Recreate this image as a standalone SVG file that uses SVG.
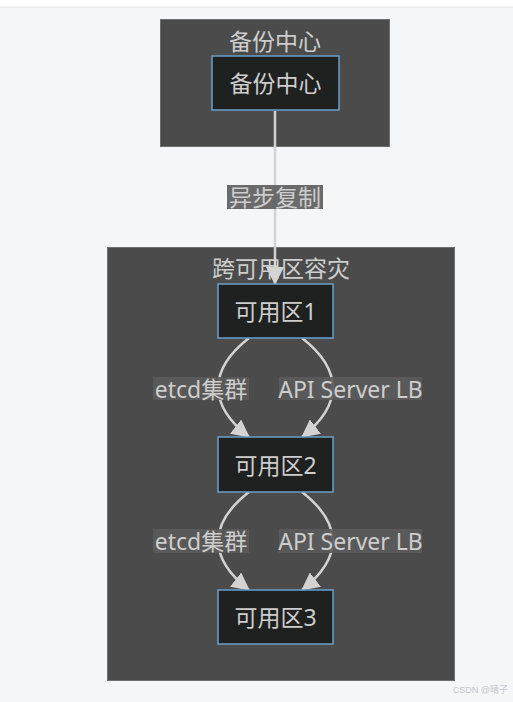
<svg xmlns="http://www.w3.org/2000/svg" width="513" height="702" viewBox="0 0 513 702">
<defs>
<marker id="arr" viewBox="0 0 18 18" refX="17" refY="9" markerWidth="18" markerHeight="18" markerUnits="userSpaceOnUse" orient="auto">
<path d="M0,0 L18,9 L0,18 Z" fill="#d3d3d3"/>
</marker>
<style>
.cl{fill:#4a4b4a;stroke:#6e6e6e;stroke-width:1}
.nd{fill:#1f2020;stroke:#6a9fd0;stroke-width:1.5}
.t{font-family:"Noto Sans","Noto Sans CJK SC",sans-serif;font-size:23px;fill:#cdcdcd;text-anchor:middle;dominant-baseline:central}
.e{fill:none;stroke:#d3d3d3;stroke-width:2.5}
.lb{fill:#5b5b5b;opacity:0.9}
</style>
</defs>
<rect x="0" y="0" width="513" height="702" fill="#ffffff"/>
<rect x="0" y="7" width="513" height="695" fill="#f5f6f8"/>
<line x1="0" y1="7" x2="513" y2="7" stroke="#e6e7eb" stroke-width="1"/>
<g id="cluster-backup">
<rect class="cl" x="160.5" y="19.5" width="229" height="127"/>
<text class="t" x="275" y="41">备份中心</text>
</g>
<g id="cluster-az">
<rect class="cl" x="107.5" y="247.5" width="347" height="433"/>
<text class="t" x="281" y="268">跨可用区容灾</text>
</g>
<g id="connectors">
<line class="e" x1="275" y1="111" x2="275" y2="284" marker-end="url(#arr)"/>
<path class="e" d="M249,338 C208,370 208,405 249,437" marker-end="url(#arr)"/>
<path class="e" d="M302,338 C343,370 343,405 302,437" marker-end="url(#arr)"/>
<path class="e" d="M249,492 C208,524 208,558 249,590" marker-end="url(#arr)"/>
<path class="e" d="M302,492 C343,524 343,558 302,590" marker-end="url(#arr)"/>
<rect class="lb" x="227" y="185" width="96" height="24"/>
<text class="t" x="275" y="197">异步复制</text>
<rect class="lb" x="153" y="377" width="96" height="23"/>
<text class="t" x="201" y="388.5">etcd集群</text>
<rect class="lb" x="279" y="377" width="143" height="23"/>
<text class="t" x="350.5" y="388.5">API Server LB</text>
<rect class="lb" x="153" y="529" width="96" height="24"/>
<text class="t" x="201" y="541">etcd集群</text>
<rect class="lb" x="279" y="529" width="143" height="24"/>
<text class="t" x="350.5" y="541">API Server LB</text>
</g>
<g id="node-backup">
<rect class="nd" x="212" y="56" width="127" height="54"/>
<text class="t" x="275.5" y="83">备份中心</text>
</g>
<g id="node-az1">
<rect class="nd" x="218" y="284" width="115" height="54"/>
<text class="t" x="275.5" y="311">可用区1</text>
</g>
<g id="node-az2">
<rect class="nd" x="218" y="437" width="115" height="55"/>
<text class="t" x="275.5" y="464.5">可用区2</text>
</g>
<g id="node-az3">
<rect class="nd" x="218" y="590" width="115" height="54"/>
<text class="t" x="275.5" y="617">可用区3</text>
</g>
<text x="508" y="693" font-family="'Liberation Sans','Noto Sans CJK SC',sans-serif" font-size="9" fill="#c4c6cc" text-anchor="end">CSDN @晴子</text>
</svg>
